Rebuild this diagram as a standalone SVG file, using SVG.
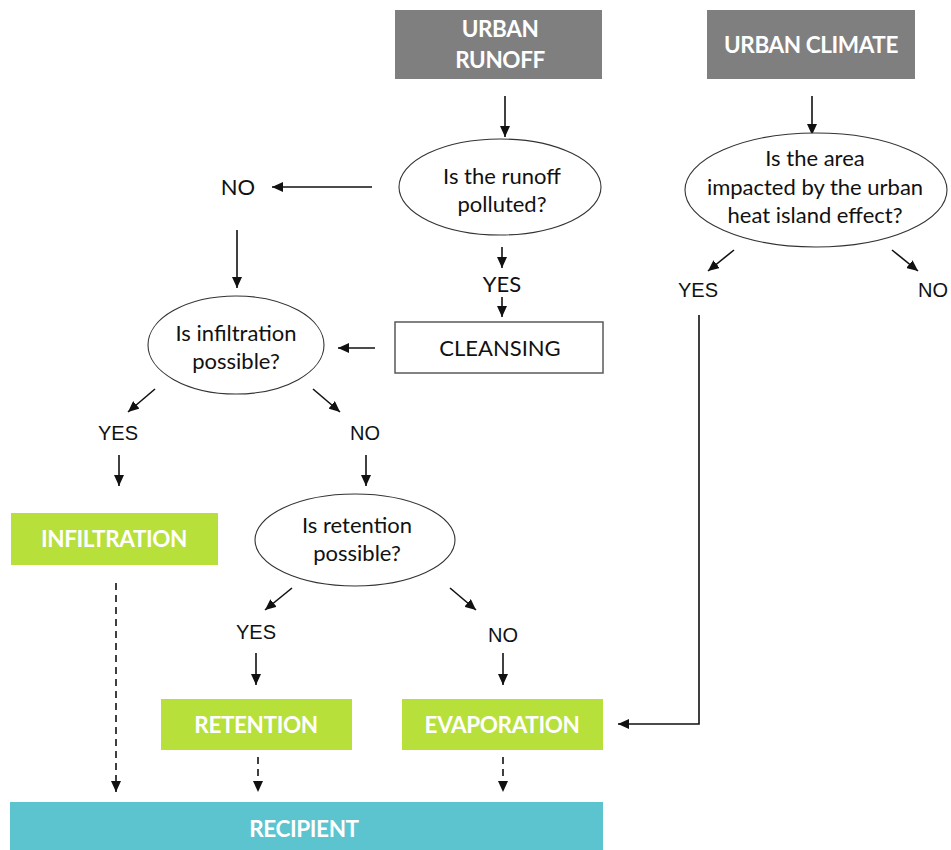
<svg xmlns="http://www.w3.org/2000/svg" width="951" height="850" viewBox="0 0 951 850">
  <style>
    .bg { fill: #ffffff; }
    .gray { fill: #7f7f7f; }
    .green { fill: #b7e03b; }
    .teal { fill: #5bc4cf; }
    .plain { fill: #ffffff; stroke: #5a5a5a; stroke-width: 1.5; }
    .oval { fill: #ffffff; stroke: #333333; stroke-width: 1.1; }
    .title { font-family: Lato, "Open Sans", sans-serif; font-weight: bold; font-size: 22.5px; letter-spacing: -0.4px; fill: #ffffff; text-anchor: middle; }
    .q { font-family: Lato, "Open Sans", sans-serif; font-size: 22px; fill: #111111; text-anchor: middle; }
    .ans { font-family: "Liberation Sans", Arial, sans-serif; font-size: 20px; fill: #111111; text-anchor: middle; }
    .conn { fill: none; stroke: #111111; stroke-width: 1.6; marker-end: url(#head); }
    .dash { stroke-dasharray: 7 5; }
  </style>
  <defs>
    <marker id="head" markerUnits="userSpaceOnUse" markerWidth="11" markerHeight="10" refX="11" refY="5" orient="auto">
      <path d="M0,0 L11,5 L0,10 z" fill="#111111"/>
    </marker>
  </defs>

  <rect class="bg" x="0" y="0" width="951" height="850"/>

  <!-- connectors -->
  <g id="connectors">
    <path class="conn" d="M505,96 V137"/>
    <path class="conn" d="M812,96 V135"/>
    <path class="conn" d="M372,187 H272"/>
    <path class="conn" d="M237,230 V288"/>
    <path class="conn" d="M502,247 V268"/>
    <path class="conn" d="M502,297 V317"/>
    <path class="conn" d="M375,348 H338"/>
    <path class="conn" d="M155,389 L128,412"/>
    <path class="conn" d="M313,389 L340,412"/>
    <path class="conn" d="M119,455 V486"/>
    <path class="conn" d="M366,455 V486"/>
    <path class="conn" d="M292,588 L265,610"/>
    <path class="conn" d="M450,588 L476,610"/>
    <path class="conn" d="M256,653 V685"/>
    <path class="conn" d="M503,653 V685"/>
    <path class="conn dash" d="M116,583 V792"/>
    <path class="conn dash" d="M258,757 V792"/>
    <path class="conn dash" d="M503,757 V792"/>
    <path class="conn" d="M734,250 L708,271"/>
    <path class="conn" d="M892,250 L918,271"/>
    <path class="conn" d="M699,315 V724 H618"/>
  </g>

  <!-- source boxes -->
  <g id="urban-runoff">
    <rect class="gray" x="395" y="10" width="207" height="69"/>
    <text class="title" x="500" y="37">URBAN</text>
    <text class="title" x="500" y="68">RUNOFF</text>
  </g>
  <g id="urban-climate">
    <rect class="gray" x="707" y="10" width="208" height="69"/>
    <text class="title" x="811" y="53">URBAN CLIMATE</text>
  </g>

  <!-- decisions -->
  <g id="q-polluted">
    <ellipse class="oval" cx="500" cy="187" rx="101" ry="48"/>
    <text class="q" x="502" y="184">Is the runoff</text>
    <text class="q" x="502" y="212">polluted?</text>
  </g>
  <g id="lbl-no-polluted">
    <text class="q" x="238" y="195">NO</text>
  </g>
  <g id="lbl-yes-polluted">
    <text class="q" x="502" y="292">YES</text>
  </g>
  <g id="cleansing">
    <rect class="plain" x="395" y="322" width="208" height="51"/>
    <text class="q" x="500" y="356">CLEANSING</text>
  </g>
  <g id="q-infiltration">
    <ellipse class="oval" cx="236" cy="345" rx="88" ry="49"/>
    <text class="q" x="236" y="341">Is infiltration</text>
    <text class="q" x="236" y="369">possible?</text>
  </g>
  <g id="lbl-yes-infiltration">
    <text class="ans" x="118" y="440">YES</text>
  </g>
  <g id="lbl-no-infiltration">
    <text class="ans" x="365" y="440">NO</text>
  </g>
  <g id="infiltration">
    <rect class="green" x="11" y="513" width="207" height="52"/>
    <text class="title" x="114" y="547">INFILTRATION</text>
  </g>
  <g id="q-retention">
    <ellipse class="oval" cx="355" cy="540" rx="100" ry="46"/>
    <text class="q" x="357" y="533">Is retention</text>
    <text class="q" x="357" y="561">possible?</text>
  </g>
  <g id="lbl-yes-retention">
    <text class="ans" x="256" y="639">YES</text>
  </g>
  <g id="lbl-no-retention">
    <text class="ans" x="503" y="642">NO</text>
  </g>
  <g id="retention">
    <rect class="green" x="161" y="699" width="191" height="51"/>
    <text class="title" x="256" y="733">RETENTION</text>
  </g>
  <g id="evaporation">
    <rect class="green" x="402" y="699" width="201" height="51"/>
    <text class="title" x="502" y="733">EVAPORATION</text>
  </g>
  <g id="recipient">
    <rect class="teal" x="10" y="802" width="593" height="48"/>
    <text class="title" x="304" y="837">RECIPIENT</text>
  </g>
  <g id="q-heat-island">
    <ellipse class="oval" cx="816" cy="190" rx="131" ry="57"/>
    <text class="q" x="815" y="166">Is the area</text>
    <text class="q" x="815" y="195">impacted by the urban</text>
    <text class="q" x="815" y="223">heat island effect?</text>
  </g>
  <g id="lbl-yes-heat">
    <text class="ans" x="698" y="297">YES</text>
  </g>
  <g id="lbl-no-heat">
    <text class="ans" x="933" y="297">NO</text>
  </g>
</svg>
